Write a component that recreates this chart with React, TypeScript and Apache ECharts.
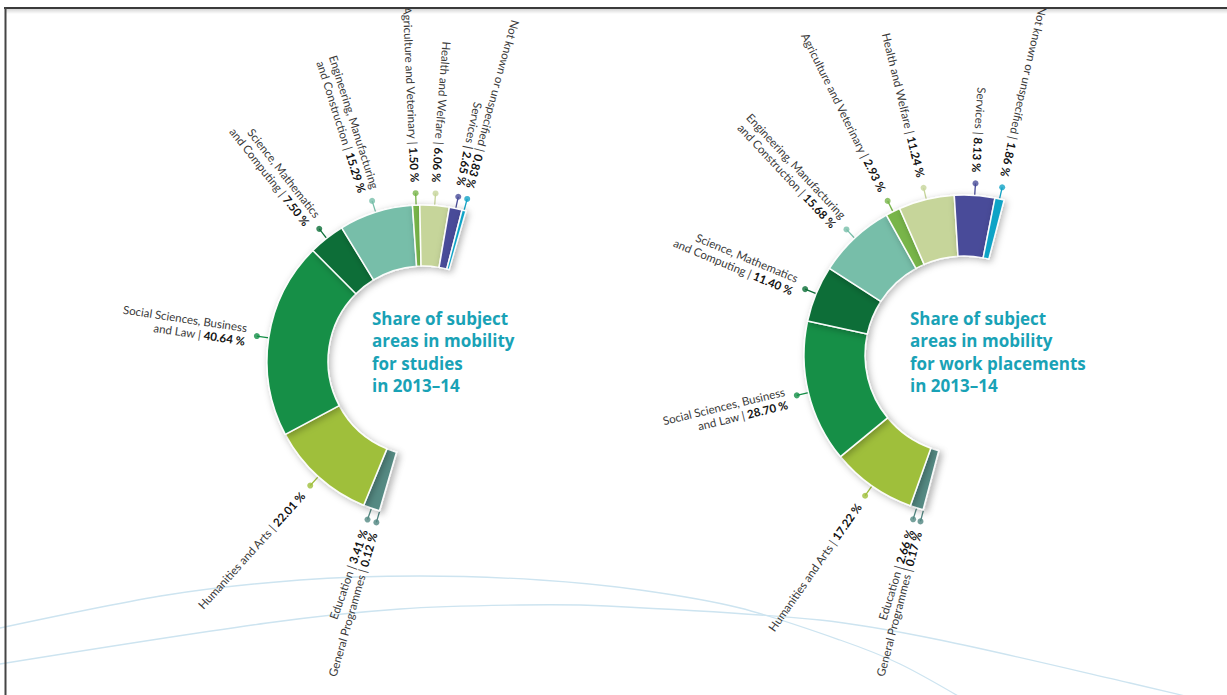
import React, { useEffect, useRef } from "react";
import * as echarts from "echarts";

// ---------- data ----------
const categories = [
  "General Programmes",
  "Education",
  "Humanities and Arts",
  "Social Sciences, Business\nand Law",
  "Science, Mathematics\nand Computing",
  "Engineering, Manufacturing\nand Construction",
  "Agriculture and Veterinary",
  "Health and Welfare",
  "Services",
  "Not known or unspecified",
];
const studiesValues = [0.12, 3.41, 22.01, 40.64, 7.5, 15.29, 1.5, 6.06, 2.65, 0.83];
const placementValues = [0.17, 2.66, 17.22, 28.7, 11.4, 15.68, 2.93, 11.24, 8.13, 1.86];
const sliceColors = [
  "#4f8580",
  "#548a83",
  "#9fbf3b",
  "#138f46",
  "#0b6e37",
  "#77bea9",
  "#78b54a",
  "#c6d59a",
  "#494c99",
  "#11a3c6",
];
const chartTitles = [
  "Share of subject\nareas in mobility\nfor studies\nin 2013–14",
  "Share of subject\nareas in mobility\nfor work placements\nin 2013–14",
];

// ---------- layout constants ----------
const W = 1227;
const H = 695;
const FONT = "Lato, 'Noto Sans', sans-serif";
const TITLE_FONT = "'Open Sans', 'Noto Sans', sans-serif";
const donuts = [
  { center: [423, 361], radius: [95, 156], start: 254, title: [372, 307] },
  { center: [964, 355], radius: [99, 160], start: 255.5, title: [910, 307] },
];
const LINE_LEN = 12;
const TEXT_GAP = 11;

function pieData(values: number[]) {
  return categories.map((name, i) => ({
    name,
    value: values[i],
    itemStyle: { color: sliceColors[i] },
  }));
}

function dotData(values: number[]) {
  const total = values.reduce((a, b) => a + b, 0);
  let cum = 0;
  return values.map((v, i) => {
    const mid = ((cum + v / 2) / total) * 100;
    cum += v;
    return { value: [1, mid], itemStyle: { color: sliceColors[i] } };
  });
}

const labelLayout = (params: any) => {
  const pts = params.labelLinePoints;
  if (!pts || pts.length < 2) return {};
  const p0 = pts[0];
  const p1 = pts[1];
  const dx = p1[0] - p0[0];
  const dy = p1[1] - p0[1];
  const len = Math.hypot(dx, dy) || 1;
  const ux = dx / len;
  const uy = dy / len;
  const rot = (Math.atan2(uy, -ux) * 180) / Math.PI;
  return {
    x: p1[0] + ux * TEXT_GAP,
    y: p1[1] + uy * TEXT_GAP,
    rotate: rot,
    align: "right",
    verticalAlign: "middle",
    labelLinePoints: pts,
  };
};

function pieSeries(values: number[], d: any) {
  return {
    type: "pie",
    center: d.center,
    radius: d.radius,
    startAngle: d.start,
    endAngle: d.start - 180,
    clockwise: true,
    avoidLabelOverlap: false,
    silent: true,
    emphasis: { disabled: true },
    itemStyle: {
      borderColor: "rgba(255,255,255,0.95)",
      borderWidth: 1.5,
      shadowBlur: 7,
      shadowOffsetX: 2,
      shadowOffsetY: 2,
      shadowColor: "rgba(0,0,0,0.28)",
    },
    label: {
      show: true,
      position: "outside",
      rotate: "radial",
      formatter: (p: any) => `{n|${p.name} | }{v|${Number(p.value).toFixed(2)} %}`,
      rich: {
        n: { fontFamily: FONT, fontSize: 11.5, color: "#3a3a3a", align: "right", lineHeight: 13.5 },
        v: { fontFamily: FONT, fontSize: 11.5, fontWeight: "bold", color: "#111", align: "right", lineHeight: 13.5 },
      },
    },
    labelLine: { show: true, length: LINE_LEN, length2: 0, smooth: false, lineStyle: { width: 1.3 } },
    labelLayout,
    data: pieData(values),
  };
}

function dotSeries(values: number[], idx: number) {
  return {
    type: "scatter",
    coordinateSystem: "polar",
    polarIndex: idx,
    symbol: "circle",
    symbolSize: 6,
    silent: true,
    z: 3,
    data: dotData(values),
  };
}

export default function App() {
  const ref = useRef<HTMLDivElement>(null);
  useEffect(() => {
    if (!ref.current) return;
    const chart = echarts.init(ref.current, undefined, { renderer: "svg" });
    const option: any = {
      animation: false,
      backgroundColor: "#ffffff",
      title: donuts.map((d, i) => ({
        text: chartTitles[i],
        left: d.title[0],
        top: d.title[1],
        padding: 0,
        textStyle: {
          color: "#19a2b6",
          fontFamily: TITLE_FONT,
          fontWeight: "bold",
          fontSize: 17,
          lineHeight: 22.5,
        },
      })),
      polar: donuts.map((d) => ({ center: d.center, radius: d.radius[1] + LINE_LEN })),
      angleAxis: donuts.map((d, i) => ({
        polarIndex: i,
        type: "value",
        min: 0,
        max: 200,
        startAngle: d.start,
        clockwise: true,
        show: false,
      })),
      radiusAxis: donuts.map((d, i) => ({
        polarIndex: i,
        type: "value",
        min: 0,
        max: 1,
        show: false,
      })),
      graphic: [
        {
          type: "polyline",
          z: -1,
          silent: true,
          shape: {
            points: [
              [0, 628], [167, 595], [300, 580], [420, 576], [540, 580], [640, 590],
              [740, 608], [840, 640], [900, 664], [965, 700],
            ],
            smooth: 0.3,
          },
          style: { stroke: "#cde4f0", lineWidth: 1.3, fill: "none" },
        },
        {
          type: "polyline",
          z: -1,
          silent: true,
          shape: {
            points: [
              [0, 664], [267, 623], [400, 609], [520, 605], [607, 606], [820, 620],
              [940, 640], [1130, 683], [1227, 706],
            ],
            smooth: 0.3,
          },
          style: { stroke: "#cde4f0", lineWidth: 1.3, fill: "none" },
        },
        {
          type: "rect",
          z: 100,
          silent: true,
          shape: { x: 0, y: 0, width: W, height: 7 },
          style: { fill: "#ffffff" },
        },
        {
          type: "rect",
          z: 100,
          silent: true,
          shape: { x: 6, y: 9, width: W - 6, height: 5 },
          style: {
            fill: new echarts.graphic.LinearGradient(0, 0, 0, 1, [
              { offset: 0, color: "rgba(0,0,0,0.16)" },
              { offset: 1, color: "rgba(0,0,0,0)" },
            ]),
          },
        },
        {
          type: "line",
          z: 101,
          silent: true,
          shape: { x1: 4, y1: 8, x2: W, y2: 8 },
          style: { stroke: "#3a3a3a", lineWidth: 2 },
        },
        {
          type: "line",
          z: 101,
          silent: true,
          shape: { x1: 5.5, y1: 7, x2: 5.5, y2: H },
          style: { stroke: "#454545", lineWidth: 2 },
        },
      ],
      series: [
        pieSeries(studiesValues, donuts[0]),
        pieSeries(placementValues, donuts[1]),
        dotSeries(studiesValues, 0),
        dotSeries(placementValues, 1),
      ],
    };
    chart.setOption(option);
    return () => chart.dispose();
  }, []);
  return (
    <div
      ref={ref}
      style={{ position: "fixed", left: 0, top: 0, width: W, height: H, background: "#fff" }}
    />
  );
}
